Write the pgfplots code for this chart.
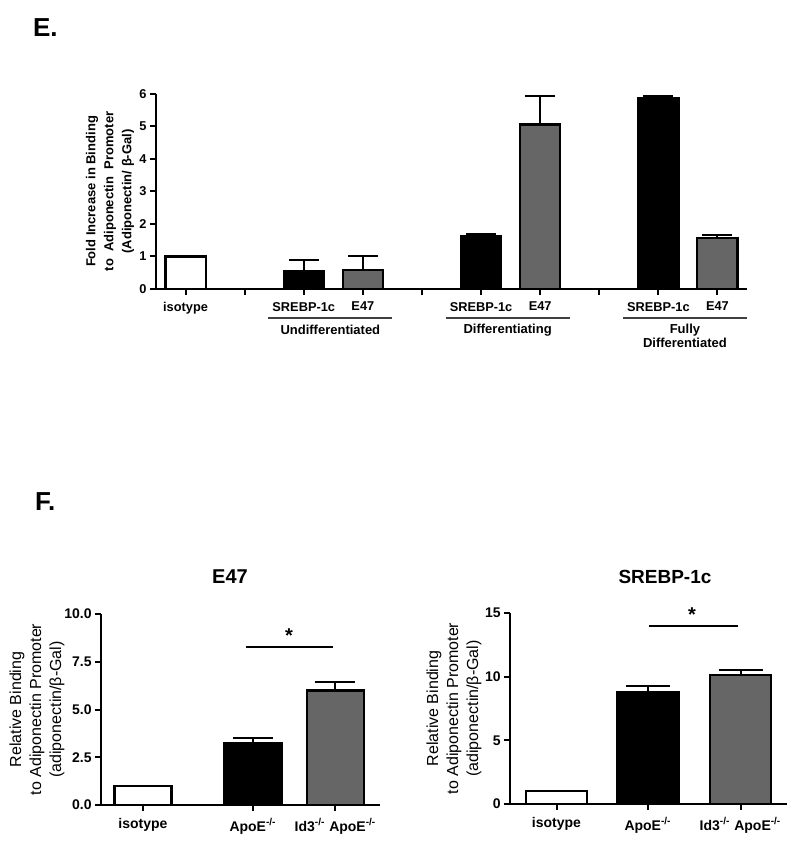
\documentclass[border=0pt]{standalone}
\usepackage{fontspec}
\setmainfont{Liberation Sans}
\usepackage{pgfplots}
\pgfplotsset{compat=1.18}
\definecolor{bargray}{HTML}{666666}
\pgfplotsset{
  prism/.style={
    scale only axis, axis lines=left, axis line style={line width=1.1pt,-},
    tick align=outside, major tick length=3pt,
    tick style={line width=1pt,black},
    clip=false, ybar, bar shift=0pt,
    /pgf/number format/assume math mode=true,
    yticklabel style={inner sep=1.5pt},
    every axis plot/.append style={draw=black, line width=1.1pt},
    error bars/y dir=plus, error bars/y explicit,
    error bars/error bar style={line width=1pt,black},
    error bars/error mark=-,
  }
}
\begin{document}
\begin{tikzpicture}
\path[use as bounding box] (0,0) rectangle (400pt,421.5pt);
\node[font=\fontsize{13}{14}\selectfont\bfseries, anchor=west] at (13pt,407.75pt) {E.};
\node[font=\fontsize{13}{14}\selectfont\bfseries, anchor=west] at (14pt,170.5pt) {F.};

% ---------------- Panel E ----------------
\begin{axis}[prism,
  at={(78pt,277pt)}, anchor=south west,
  width=295.5pt, height=97.5pt,
  xmin=-0.5, xmax=9.5, ymin=0, ymax=6,
  ytick={0,1,2,3,4,5,6},
  xtick={0,1,2,3,4,5,6,7,8,9},
  xticklabels={isotype,,SREBP-1c,E47,,SREBP-1c,E47,,SREBP-1c,E47},
  tick label style={font=\fontsize{6.4}{7}\selectfont\bfseries},
  bar width=0.68,
  error bars/error mark options={rotate=90,line width=1pt,mark size=7.5pt,black},
  ylabel={Fold Increase in Binding\\to\ \ Adiponectin\ \ Promoter\\(Adiponectin/ β-Gal)},
  ylabel style={at={([xshift=-23pt]axis description cs:0,0.5)}, anchor=center,
    align=center, font=\fontsize{6.5}{9}\selectfont\bfseries},
]
\addplot[fill=white] coordinates {(0,1.0)};
\addplot[fill=black] coordinates {(2,0.56) +- (0,0.33) (5,1.64) +- (0,0.04) (8,5.88) +- (0,0.07)};
\addplot[fill=bargray] coordinates {(3,0.59) +- (0,0.41) (6,5.06) +- (0,0.89) (9,1.57) +- (0,0.10)};
\foreach \a/\b in {1.4/3.5,4.4/6.5,7.4/9.5}{
  \edef\tmp{\noexpand\draw[line width=1pt, black!75] ([yshift=-14.5pt]axis cs:\a,0) -- ([yshift=-14.5pt]axis cs:\b,0);}
  \tmp
}
\node[font=\fontsize{6.5}{7}\selectfont\bfseries] at ([yshift=-20.5pt]axis cs:2.45,0) {Undifferentiated};
\node[font=\fontsize{6.5}{7}\selectfont\bfseries] at ([yshift=-20.5pt]axis cs:5.45,0) {Differentiating};
\node[font=\fontsize{6.5}{7}\selectfont\bfseries, align=center] at ([yshift=-23.5pt]axis cs:8.45,0) {Fully\\Differentiated};
\end{axis}

% ---------------- Panel F left (E47) ----------------
\node[font=\fontsize{10}{12}\selectfont\bfseries] at (115pt,133pt) {E47};
\begin{axis}[prism,
  at={(50.5pt,19pt)}, anchor=south west,
  width=139.5pt, height=95.5pt,
  xmin=101, xmax=380, ymin=0, ymax=10,
  ytick={0,2.5,5,7.5,10},
  yticklabel style={/pgf/number format/.cd, fixed, fixed zerofill, precision=1},
  xtick={143,253,335.5},
  xticklabels={isotype,ApoE\textsuperscript{-/-},Id3\textsuperscript{-/-} ApoE\textsuperscript{-/-}},
  tick label style={font=\fontsize{7}{8}\selectfont\bfseries},
  bar width=57,
  error bars/error mark options={rotate=90,line width=1pt,mark size=10pt,black},
  ylabel={Relative Binding\\to Adiponectin Promoter\\(adiponectin/β-Gal)},
  ylabel style={at={([xshift=-32pt]axis description cs:0,0.5)}, anchor=center,
    align=center, font=\fontsize{8}{10}\selectfont},
]
\addplot[fill=white] coordinates {(143,1.0)};
\addplot[fill=black] coordinates {(253,3.26) +- (0,0.26)};
\addplot[fill=bargray] coordinates {(335.5,6.0) +- (0,0.42)};
\draw[line width=1pt] (axis cs:246,8.25) -- (axis cs:333,8.25);
\node[font=\fontsize{10}{12}\selectfont\bfseries] at (axis cs:289,8.85) {*};
\end{axis}

% ---------------- Panel F right (SREBP-1c) ----------------
\node[font=\fontsize{9.5}{12}\selectfont\bfseries] at (332.5pt,133pt) {SREBP-1c};
\begin{axis}[prism,
  at={(255pt,19.5pt)}, anchor=south west,
  width=138.5pt, height=95.5pt,
  xmin=510, xmax=787, ymin=0, ymax=15,
  ytick={0,5,10,15},
  xtick={556.5,648,740.5},
  xticklabels={isotype,ApoE\textsuperscript{-/-},Id3\textsuperscript{-/-} ApoE\textsuperscript{-/-}},
  tick label style={font=\fontsize{7}{8}\selectfont\bfseries},
  bar width=61,
  error bars/error mark options={rotate=90,line width=1pt,mark size=11pt,black},
  ylabel={Relative Binding\\to Adiponectin Promoter\\(adiponectin/β-Gal)},
  ylabel style={at={([xshift=-28pt]axis description cs:0,0.5)}, anchor=center,
    align=center, font=\fontsize{8}{10}\selectfont},
]
\addplot[fill=white] coordinates {(556.5,1.0)};
\addplot[fill=black] coordinates {(648,8.8) +- (0,0.45)};
\addplot[fill=bargray] coordinates {(740.5,10.15) +- (0,0.35)};
\draw[line width=1pt] (axis cs:649,14) -- (axis cs:738,14);
\node[font=\fontsize{10}{12}\selectfont\bfseries] at (axis cs:692,14.85) {*};
\end{axis}
\end{tikzpicture}
\end{document}
